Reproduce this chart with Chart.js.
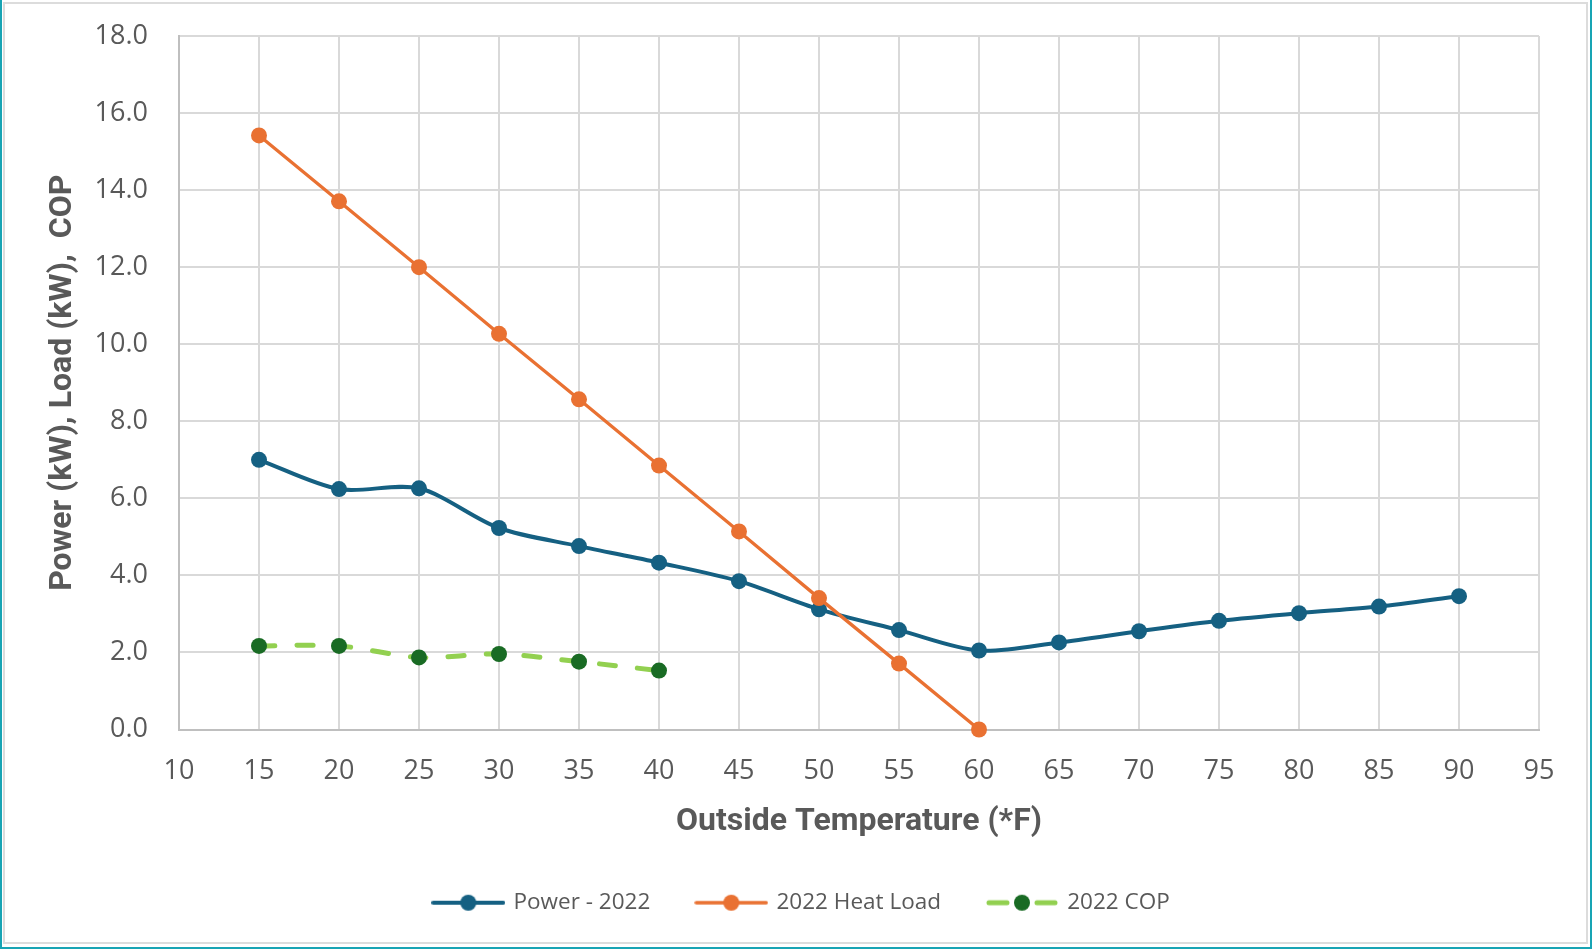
<!DOCTYPE html>
<html>
<head>
<meta charset="utf-8">
<script src="https://cdn.jsdelivr.net/npm/chart.js@4"></script>
<style>
  html, body { margin: 0; padding: 0; background: #fff; }
  #frame {
    position: absolute; left: 0; top: 0; width: 1592px; height: 949px;
    box-sizing: border-box;
    border-left: 2px solid #18a4b4; border-right: 2px solid #18a4b4; border-bottom: 2px solid #18a4b4;
  }
  #inner {
    position: absolute; left: 1px; top: 2px; right: 2px; bottom: 3px;
    border: 2px solid #dcdcdc;
  }
  #chart { position: absolute; left: 0; top: 0; }
</style>
</head>
<body>
<div id="frame"><div id="inner"></div></div>
<canvas id="chart" width="1592" height="949"></canvas>
<script>
// Data
const temps = [15, 20, 25, 30, 35, 40, 45, 50, 55, 60, 65, 70, 75, 80, 85, 90];
const power2022 = [7.0, 6.24, 6.26, 5.23, 4.76, 4.33, 3.85, 3.12, 2.58, 2.05, 2.26, 2.55, 2.82, 3.02, 3.19, 3.46];
const loadTemps = [15, 20, 25, 30, 35, 40, 45, 50, 55, 60];
const heatLoad2022 = [15.42, 13.71, 12.0, 10.27, 8.57, 6.85, 5.14, 3.41, 1.71, 0];
const copTemps = [15, 20, 25, 30, 35, 40];
const cop2022 = [2.17, 2.17, 1.87, 1.96, 1.76, 1.53];

const seriesNames = ['Power - 2022', '2022 Heat Load', '2022 COP'];
const xMin = 10, xMax = 95, xStep = 5;
const yMin = 0, yMax = 18, yStep = 2;

const BLUE = '#156082';
const ORANGE = '#E97132';
const LIGHT_GREEN = '#92D050';
const DARK_GREEN = '#196B24';
const TEXT = '#595959';
const NONE = 'rgba(0,0,0,0)';

const toPoints = (xs, ys) => xs.map((x, i) => ({ x: x, y: ys[i] }));

// legend icons: line with a marker in the middle
function legendIcon(lineColor, dotColor, dashed, width) {
    const c = document.createElement('canvas');
    c.width = 74; c.height = 18;
    const g = c.getContext('2d');
    g.strokeStyle = lineColor;
    g.lineCap = 'round';
    g.lineWidth = width;
    g.beginPath();
    if (dashed) {
        g.moveTo(4, 9); g.lineTo(22, 9);
        g.moveTo(52, 9); g.lineTo(70, 9);
    } else {
        g.moveTo(2, 9); g.lineTo(72, 9);
    }
    g.stroke();
    g.fillStyle = dotColor;
    g.beginPath();
    g.arc(37, 9, 8, 0, Math.PI * 2);
    g.fill();
    return c;
}
const icons = [
    legendIcon(BLUE, BLUE, false, 4),
    legendIcon(ORANGE, ORANGE, false, 3.5),
    legendIcon(LIGHT_GREEN, DARK_GREEN, true, 5)
];

const ctx = document.getElementById('chart').getContext('2d');
new Chart(ctx, {
    type: 'line',
    data: {
        datasets: [{
            label: seriesNames[0],
            data: toPoints(temps, power2022),
            borderColor: BLUE,
            backgroundColor: BLUE,
            borderWidth: 4,
            pointRadius: 8,
            pointBorderWidth: 0,
            pointBackgroundColor: BLUE,
            tension: 0.3,
            order: 1,
            clip: false
        }, {
            label: seriesNames[1],
            data: toPoints(loadTemps, heatLoad2022),
            borderColor: ORANGE,
            backgroundColor: ORANGE,
            borderWidth: 3.3,
            pointRadius: 8,
            pointBorderWidth: 0,
            pointBackgroundColor: ORANGE,
            tension: 0,
            order: 0,
            clip: false
        }, {
            label: seriesNames[2],
            data: toPoints(copTemps, cop2022),
            borderColor: LIGHT_GREEN,
            backgroundColor: DARK_GREEN,
            borderWidth: 5,
            borderDash: [16, 22],
            borderCapStyle: 'round',
            pointRadius: 8,
            pointBorderWidth: 0,
            pointBackgroundColor: DARK_GREEN,
            tension: 0.3,
            order: 2,
            clip: false
        }]
    },
    options: {
        responsive: false,
        animation: false,
        devicePixelRatio: 1,
        layout: { padding: { left: 12, right: 0, top: 36, bottom: 25 } },
        scales: {
            x: {
                type: 'linear',
                min: xMin, max: xMax,
                afterBuildTicks: (scale) => {
                    const t = [];
                    for (let v = xMin; v <= xMax; v += xStep) t.push({ value: v });
                    scale.ticks = t;
                },
                afterFit: (scale) => { scale.height = 115; },
                grid: { color: '#d9d9d9', lineWidth: 2, drawTicks: false },
                border: { color: '#bfbfbf', width: 2 },
                ticks: {
                    padding: 26,
                    color: TEXT,
                    font: { family: '"Open Sans"', size: 27 },
                    callback: (v) => String(v)
                },
                title: {
                    display: true,
                    text: 'Outside Temperature (*F)',
                    color: TEXT,
                    font: { family: 'Roboto', size: 32, weight: 'bold' },
                    padding: { top: 0, bottom: 3.5 }
                }
            },
            y: {
                min: yMin, max: yMax,
                afterBuildTicks: (scale) => {
                    const t = [];
                    for (let v = yMin; v <= yMax; v += yStep) t.push({ value: v });
                    scale.ticks = t;
                },
                afterFit: (scale) => { scale.width = 167; },
                // invisible tick marks keep the labels away from the axis
                grid: { color: '#d9d9d9', lineWidth: 2, drawTicks: true, tickLength: 31, tickColor: NONE },
                border: { color: '#bfbfbf', width: 2 },
                ticks: {
                    padding: 0,
                    color: TEXT,
                    font: { family: '"Open Sans"', size: 27 },
                    callback: (v) => v.toFixed(1)
                },
                title: {
                    display: true,
                    text: 'Power (kW), Load (kW),  COP',
                    color: TEXT,
                    font: { family: 'Roboto', size: 32, weight: 'bold' },
                    padding: { top: 32, bottom: 0 }
                }
            },
            yRight: {
                position: 'right',
                display: true,
                grid: { display: false },
                border: { display: false },
                ticks: { display: false },
                afterFit: (scale) => { scale.width = 53; }
            }
        },
        plugins: {
            legend: {
                position: 'bottom',
                maxHeight: 80,
                labels: {
                    usePointStyle: true,
                    pointStyleWidth: 68,
                    padding: 47,
                    color: TEXT,
                    font: { family: '"Open Sans"', size: 22.5 },
                    sort: (a, b) => a.datasetIndex - b.datasetIndex,
                    generateLabels: (chart) => {
                        const items = Chart.defaults.plugins.legend.labels.generateLabels(chart);
                        items.forEach((it) => { it.pointStyle = icons[it.datasetIndex]; });
                        return items;
                    }
                }
            },
            tooltip: { enabled: false }
        }
    }
});
</script>
</body>
</html>
